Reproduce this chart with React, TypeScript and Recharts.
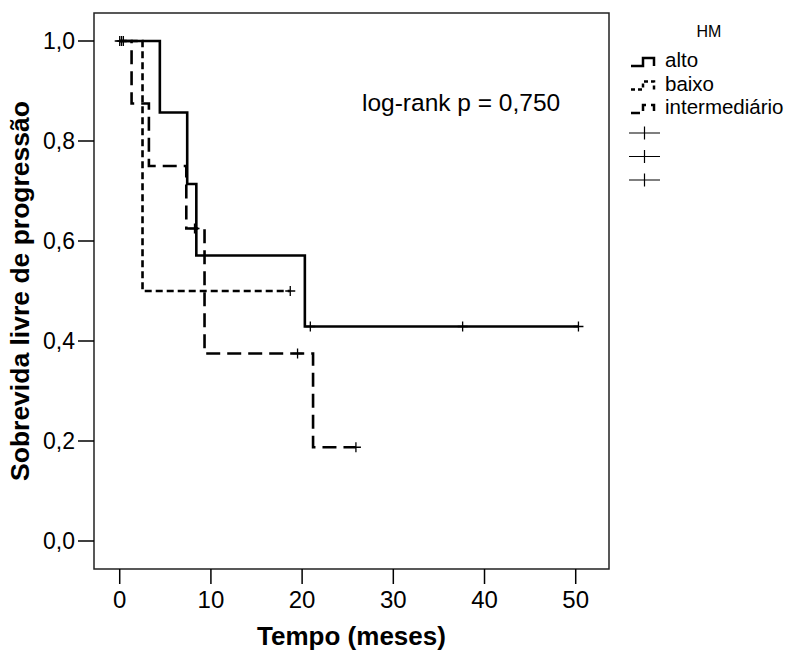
import React from "react"
import { ComposedChart, Line, Scatter, XAxis, YAxis, ReferenceArea } from "recharts"

// step points (time in months, survival)
const altoT = [0, 4.4, 7.4, 8.4, 20.3, 50.3]
const altoS = [1, 0.857, 0.714, 0.571, 0.429, 0.429]
const baixoT = [0, 2.5, 18.7]
const baixoS = [1, 0.5, 0.5]
const interT = [0, 1.3, 3.2, 7.3, 9.3, 21.2, 25.9]
const interS = [1, 0.875, 0.75, 0.625, 0.375, 0.1875, 0.1875]

// censored cases
const altoCensT = [20.9, 37.6, 50.3]
const altoCensS = [0.429, 0.429, 0.429]
const baixoCensT = [0, 0.2, 0.4, 18.7]
const baixoCensS = [1, 1, 1, 0.5]
const interCensT = [8.2, 19.5, 25.9]
const interCensS = [0.625, 0.375, 0.1875]

const xTicks = [0, 10, 20, 30, 40, 50]
const yTicks = [0, 0.2, 0.4, 0.6, 0.8, 1]
const groups = ["alto", "baixo", "intermediário"]

const X_MIN = -2.82
const X_MAX = 53.65
const Y_MIN = -0.056
const Y_MAX = 1.056

const zip = (t: number[], s: number[]) => t.map((v, i) => ({ t: v, s: s[i] }))

const FONT = "'Liberation Sans', Arial, sans-serif"
const dashes = ["", "7 4", "14 7"]

const Plus = (props: any) => {
  const { cx, cy } = props
  if (cx == null || cy == null) return null
  return <path d={`M${cx - 5},${cy} H${cx + 5} M${cx},${cy - 5} V${cy + 5}`} stroke="#000" strokeWidth={1.3} fill="none" />
}

function Overlay() {
  return (
    <svg width={789} height={652} style={{ position: "absolute", left: 0, top: 0, pointerEvents: "none" }}>
      <text x={362} y={111} fontFamily={FONT} fontSize={24.5} fill="#000">log-rank p = 0,750</text>
      <text x={709} y={37} fontFamily={FONT} fontSize={16} textAnchor="middle" fill="#000">HM</text>
      {groups.map((g, i) => {
        const y = 66 + i * 23.5
        return (
          <g key={g}>
            <path d={`M631,${y} H643 V${y - 8} H654 V${y}`} stroke="#000" strokeWidth={2.5} fill="none" strokeDasharray={i === 1 ? "4 3" : i === 2 ? "9 5" : undefined} />
            <text x={665} y={y + 1} fontFamily={FONT} fontSize={20.5} fill="#000">{g}</text>
          </g>
        )
      })}
      {[0, 1, 2].map((i) => {
        const y = 133 + i * 23.5
        return <path key={i} d={`M629,${y} H660 M644.5,${y - 6.5} V${y + 6.5}`} stroke="#000" strokeWidth={1.2} fill="none" />
      })}
    </svg>
  )
}

export default function App() {
  const lines = [zip(altoT, altoS), zip(baixoT, baixoS), zip(interT, interS)]
  const cens = [zip(altoCensT, altoCensS), zip(baixoCensT, baixoCensS), zip(interCensT, interCensS)]
  return (
    <div style={{ position: "absolute", left: 0, top: 0, width: 789, height: 652, background: "#fff", fontFamily: FONT }}>
      <ComposedChart width={789} height={652} margin={{ top: 13, right: 180, left: 0, bottom: 0 }}>
        <XAxis
          dataKey="t"
          type="number"
          domain={[X_MIN, X_MAX]}
          ticks={xTicks}
          allowDataOverflow
          axisLine={false}
          tickLine={{ stroke: "#000", strokeWidth: 1.5 }}
          tickSize={15}
          tickMargin={7}
          height={83}
          tick={{ fill: "#000", fontSize: 24, fontFamily: FONT }}
          label={{ value: "Tempo (meses)", position: "insideBottom", offset: 7, fill: "#000", fontSize: 26, fontWeight: "bold", fontFamily: FONT }}
        />
        <YAxis
          type="number"
          domain={[Y_MIN, Y_MAX]}
          ticks={yTicks}
          allowDataOverflow
          axisLine={false}
          tickLine={{ stroke: "#000", strokeWidth: 1.5 }}
          tickSize={16}
          tickMargin={3}
          width={94}
          tickFormatter={(v: number) => v.toFixed(1).replace(".", ",")}
          tick={{ fill: "#000", fontSize: 23, fontFamily: FONT }}
          label={{ value: "Sobrevida livre de progressão", angle: -90, position: "insideLeft", offset: 20, fill: "#000", fontSize: 26.5, fontWeight: "bold", fontFamily: FONT, style: { textAnchor: "middle" } }}
        />
        <ReferenceArea x1={X_MIN} x2={X_MAX} y1={Y_MIN} y2={Y_MAX} fill="none" stroke="#222" strokeWidth={1.5} />
        {lines.map((d, i) => (
          <Line
            key={groups[i]}
            data={d}
            dataKey="s"
            type="stepAfter"
            stroke="#000"
            strokeWidth={2.6}
            strokeDasharray={dashes[i] || undefined}
            dot={false}
            activeDot={false}
            isAnimationActive={false}
          />
        ))}
        {cens.map((d, i) => (
          <Scatter key={"c" + i} data={d} dataKey="s" shape={<Plus />} isAnimationActive={false} />
        ))}
      </ComposedChart>
      <Overlay />
    </div>
  )
}
